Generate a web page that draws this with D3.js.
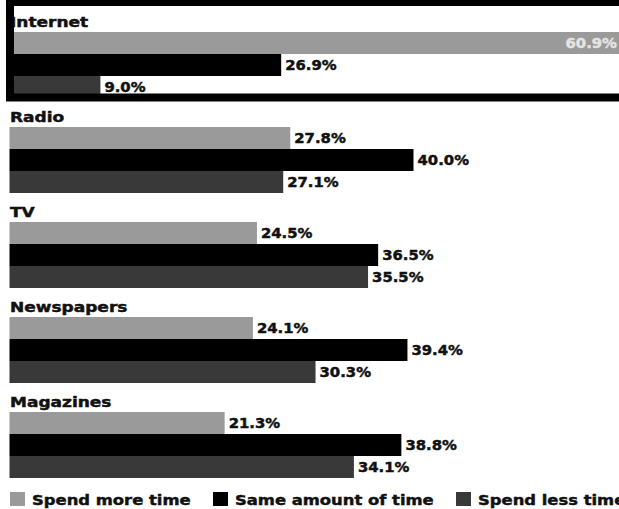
<!DOCTYPE html>
<html>
<head>
<meta charset="utf-8">
<script src="https://cdn.jsdelivr.net/npm/d3@7"></script>
<style>
  html, body { margin: 0; padding: 0; background: #fff; }
  svg { display: block; }
  text { font-family: "DejaVu Sans", sans-serif; font-weight: bold; }
</style>
</head>
<body>
<script>
// Media categories and how time spent on each changed
const categories = ["Internet", "Radio", "TV", "Newspapers", "Magazines"];
const seriesNames = ["Spend more time", "Same amount of time", "Spend less time"];
const spendMore = [60.9, 27.8, 24.5, 24.1, 21.3];
const sameAmount = [26.9, 40.0, 36.5, 39.4, 38.8];
const spendLess = [9.0, 27.1, 35.5, 30.3, 34.1];
const seriesValues = [spendMore, sameAmount, spendLess];
const colors = ["#9a9a9a", "#000000", "#393939"];

const W = 619, H = 509;
const svg = d3.select("body").append("svg").attr("width", W).attr("height", H);

const x = d3.scaleLinear().domain([0, 60]).range([9.5, 615.5]);
const yGroup = d3.scaleBand().domain(categories).range([32, 478]).paddingInner(29 / 95).paddingOuter(0);
const ySeries = d3.scaleBand().domain(seriesNames).range([0, yGroup.bandwidth()]).padding(0);

// Heavy, slightly widened lettering
function stretchedText(sel, tx, ty, str, size, anchor, fill, sx) {
  return sel.append("text")
    .attr("transform", `translate(${tx},${ty}) scale(${sx},1)`)
    .attr("text-anchor", anchor)
    .attr("font-size", size)
    .attr("fill", fill)
    .attr("stroke", fill)
    .attr("stroke-width", 0.45)
    .text(str);
}

// White panel behind the highlighted first category
svg.append("rect").attr("x", 10).attr("y", 2).attr("width", 700).attr("height", 95.5).attr("fill", "#fff");

categories.forEach((cat, ci) => {
  const g = svg.append("g").attr("transform", `translate(0,${yGroup(cat)})`);
  stretchedText(g, 10, -5, cat, 13.5, "start", "#111", 1.26);
  seriesNames.forEach((s, si) => {
    const v = seriesValues[si][ci];
    const y0 = ySeries(s);
    g.append("rect")
      .attr("x", x(0))
      .attr("y", y0)
      .attr("width", x(v) - x(0))
      .attr("height", ySeries.bandwidth())
      .attr("fill", colors[si]);
    const label = v.toFixed(1) + "%";
    const by = y0 + ySeries.bandwidth() / 2 + 5;
    if (x(v) > W - 10) {
      stretchedText(g, 617, by, label, 13.5, "end", "#e4e4e4", 1.1);
    } else {
      stretchedText(g, x(v) + 4, by, label, 13.5, "start", "#111", 1.1);
    }
  });
});

// Heavy frame around the first category
svg.append("rect").attr("x", 10).attr("y", 2).attr("width", 700).attr("height", 95.5)
  .attr("fill", "none").attr("stroke", "#000").attr("stroke-width", 8);

// Legend
const legendX = [10, 213, 456];
const legend = svg.append("g");
seriesNames.forEach((s, i) => {
  legend.append("rect").attr("x", legendX[i]).attr("y", 492).attr("width", 15).attr("height", 14).attr("fill", colors[i]);
  stretchedText(legend, legendX[i] + 22, 505, s, 14.5, "start", "#111", 1.13);
});
</script>
</body>
</html>
